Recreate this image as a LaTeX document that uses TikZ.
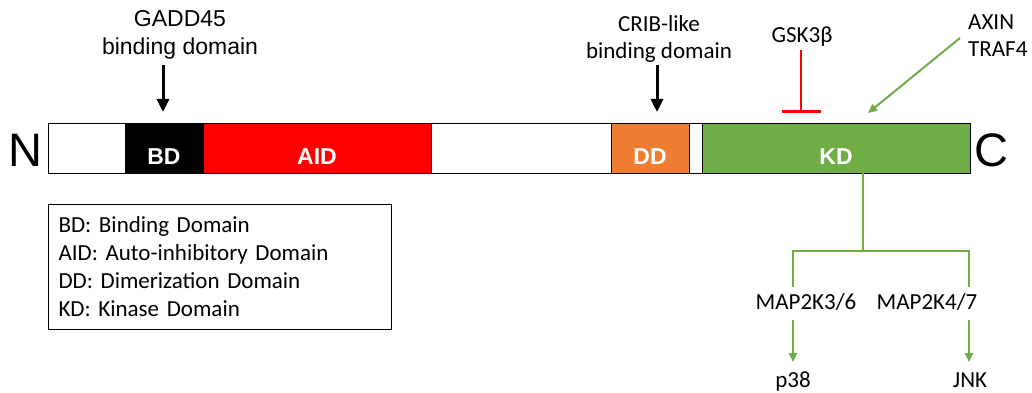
\documentclass[tikz,border=0pt]{standalone}
\usepackage{fontspec}
\setmainfont{Carlito}
\newfontfamily\arialfont{Liberation Sans}
\usetikzlibrary{arrows.meta}
\definecolor{kdgreen}{HTML}{70AD47}
\definecolor{ddorange}{HTML}{ED7D31}
\definecolor{aidred}{HTML}{FF0000}
\begin{document}
\begin{tikzpicture}[x=1pt,y=-1pt,
  seg/.style={draw=black, line width=1.2pt, inner sep=0pt, minimum height=50pt, anchor=north west},
  segtext/.style={text=white, font=\arialfont\bfseries\fontsize{23}{23}\selectfont, anchor=base, inner sep=0pt},
  endtext/.style={font=\arialfont\fontsize{47}{47}\selectfont, anchor=base, inner sep=0pt},
  ariallabel/.style={font=\arialfont\fontsize{23}{28}\selectfont, align=center, inner sep=0pt},
  callabel/.style={font=\fontsize{23}{27}\selectfont, inner sep=0pt},
  blackarrow/.style={line width=3pt, -{Triangle[width=12pt,length=13pt]}},
  greenline/.style={draw=kdgreen, line width=2pt},
  greenarrow/.style={draw=kdgreen, line width=2pt, -{Triangle[width=8pt,length=9pt]}, kdgreen},
  inhibit/.style={draw=aidred, line width=2.5pt, -{Bar[width=39pt,line width=2.5pt]}},
  legendbox/.style={draw=black, line width=1pt, anchor=north west, minimum width=343pt, minimum height=125pt, inner xsep=10pt, inner ysep=0pt, text width=323pt, align=left, font=\fontsize{23}{28}\selectfont}
]
\useasboundingbox (0,0) rectangle (1032,393);

% protein bar
\node[seg, fill=white, minimum width=922pt] (bar) at (48,123) {};
\node[seg, fill=black, minimum width=78pt] (bd) at (125,123) {};
\node[seg, fill=aidred, minimum width=228pt] (aid) at (203,123) {};
\node[seg, fill=ddorange, minimum width=78pt] (dd) at (611,123) {};
\node[seg, fill=kdgreen, minimum width=268pt] (kd) at (702,123) {};

\node[segtext] (bdt) at (164,164) {BD};
\node[segtext] (aidt) at (317,164) {AID};
\node[segtext] (ddt) at (650,164) {DD};
\node[segtext] (kdt) at (836,164) {KD};

\node[endtext] (nterm) at (25,166) {N};
\node[endtext] (cterm) at (991,166) {C};

% top labels (base anchor = baseline of last line)
\node[ariallabel, anchor=base] (gadd) at (180,55) {GADD45\\binding domain};
\node[callabel, align=center, anchor=base] (crib) at (659,59) {CRIB-like\\binding domain};
\node[callabel, anchor=base] (gsk) at (802,43) {GSK3β};
\node[callabel, align=left, anchor=base west] (axin) at (968,57) {AXIN\\TRAF4};

\coordinate (gaddtail) at (163,65);
\coordinate (gaddtip) at (163,112);
\draw[blackarrow] (gaddtail) -- (gaddtip);

\coordinate (cribtail) at (657,65);
\coordinate (cribtip) at (657,112);
\draw[blackarrow] (cribtail) -- (cribtip);

\coordinate (gsktail) at (801,50);
\coordinate (gsktip) at (801,113);
\draw[inhibit] (gsktail) -- (gsktip);

\coordinate (axintail) at (960,38);
\coordinate (axintip) at (868,113);
\draw[greenarrow] (axintail) -- (axintip);

% downstream
\coordinate (kdout) at (863,173);
\coordinate (branch) at (863,251);
\coordinate (lefttop) at (793,251);
\coordinate (righttop) at (969,251);
\coordinate (leftend) at (793,287);
\coordinate (rightend) at (969,287);
\draw[greenline] (kdout) -- (branch);
\draw[greenline] (leftend) -- (lefttop) -- (righttop) -- (rightend);

\node[callabel, anchor=base] (m36) at (806,309) {MAP2K3/6};
\node[callabel, anchor=base] (m47) at (927,309) {MAP2K4/7};
\node[callabel, anchor=base] (p38) at (793,387) {p38};
\node[callabel, anchor=base] (jnk) at (970,387) {JNK};

\coordinate (p38tail) at (793,320);
\coordinate (p38tip) at (793,362);
\coordinate (jnktail) at (969,320);
\coordinate (jnktip) at (969,362);
\draw[greenarrow] (p38tail) -- (p38tip);
\draw[greenarrow] (jnktail) -- (jnktip);

% legend
\node[legendbox] (legend) at (48,204) {BD: Binding Domain\\AID: Auto-inhibitory Domain\\DD: Dimerization Domain\\KD: Kinase Domain};
\end{tikzpicture}
\end{document}
